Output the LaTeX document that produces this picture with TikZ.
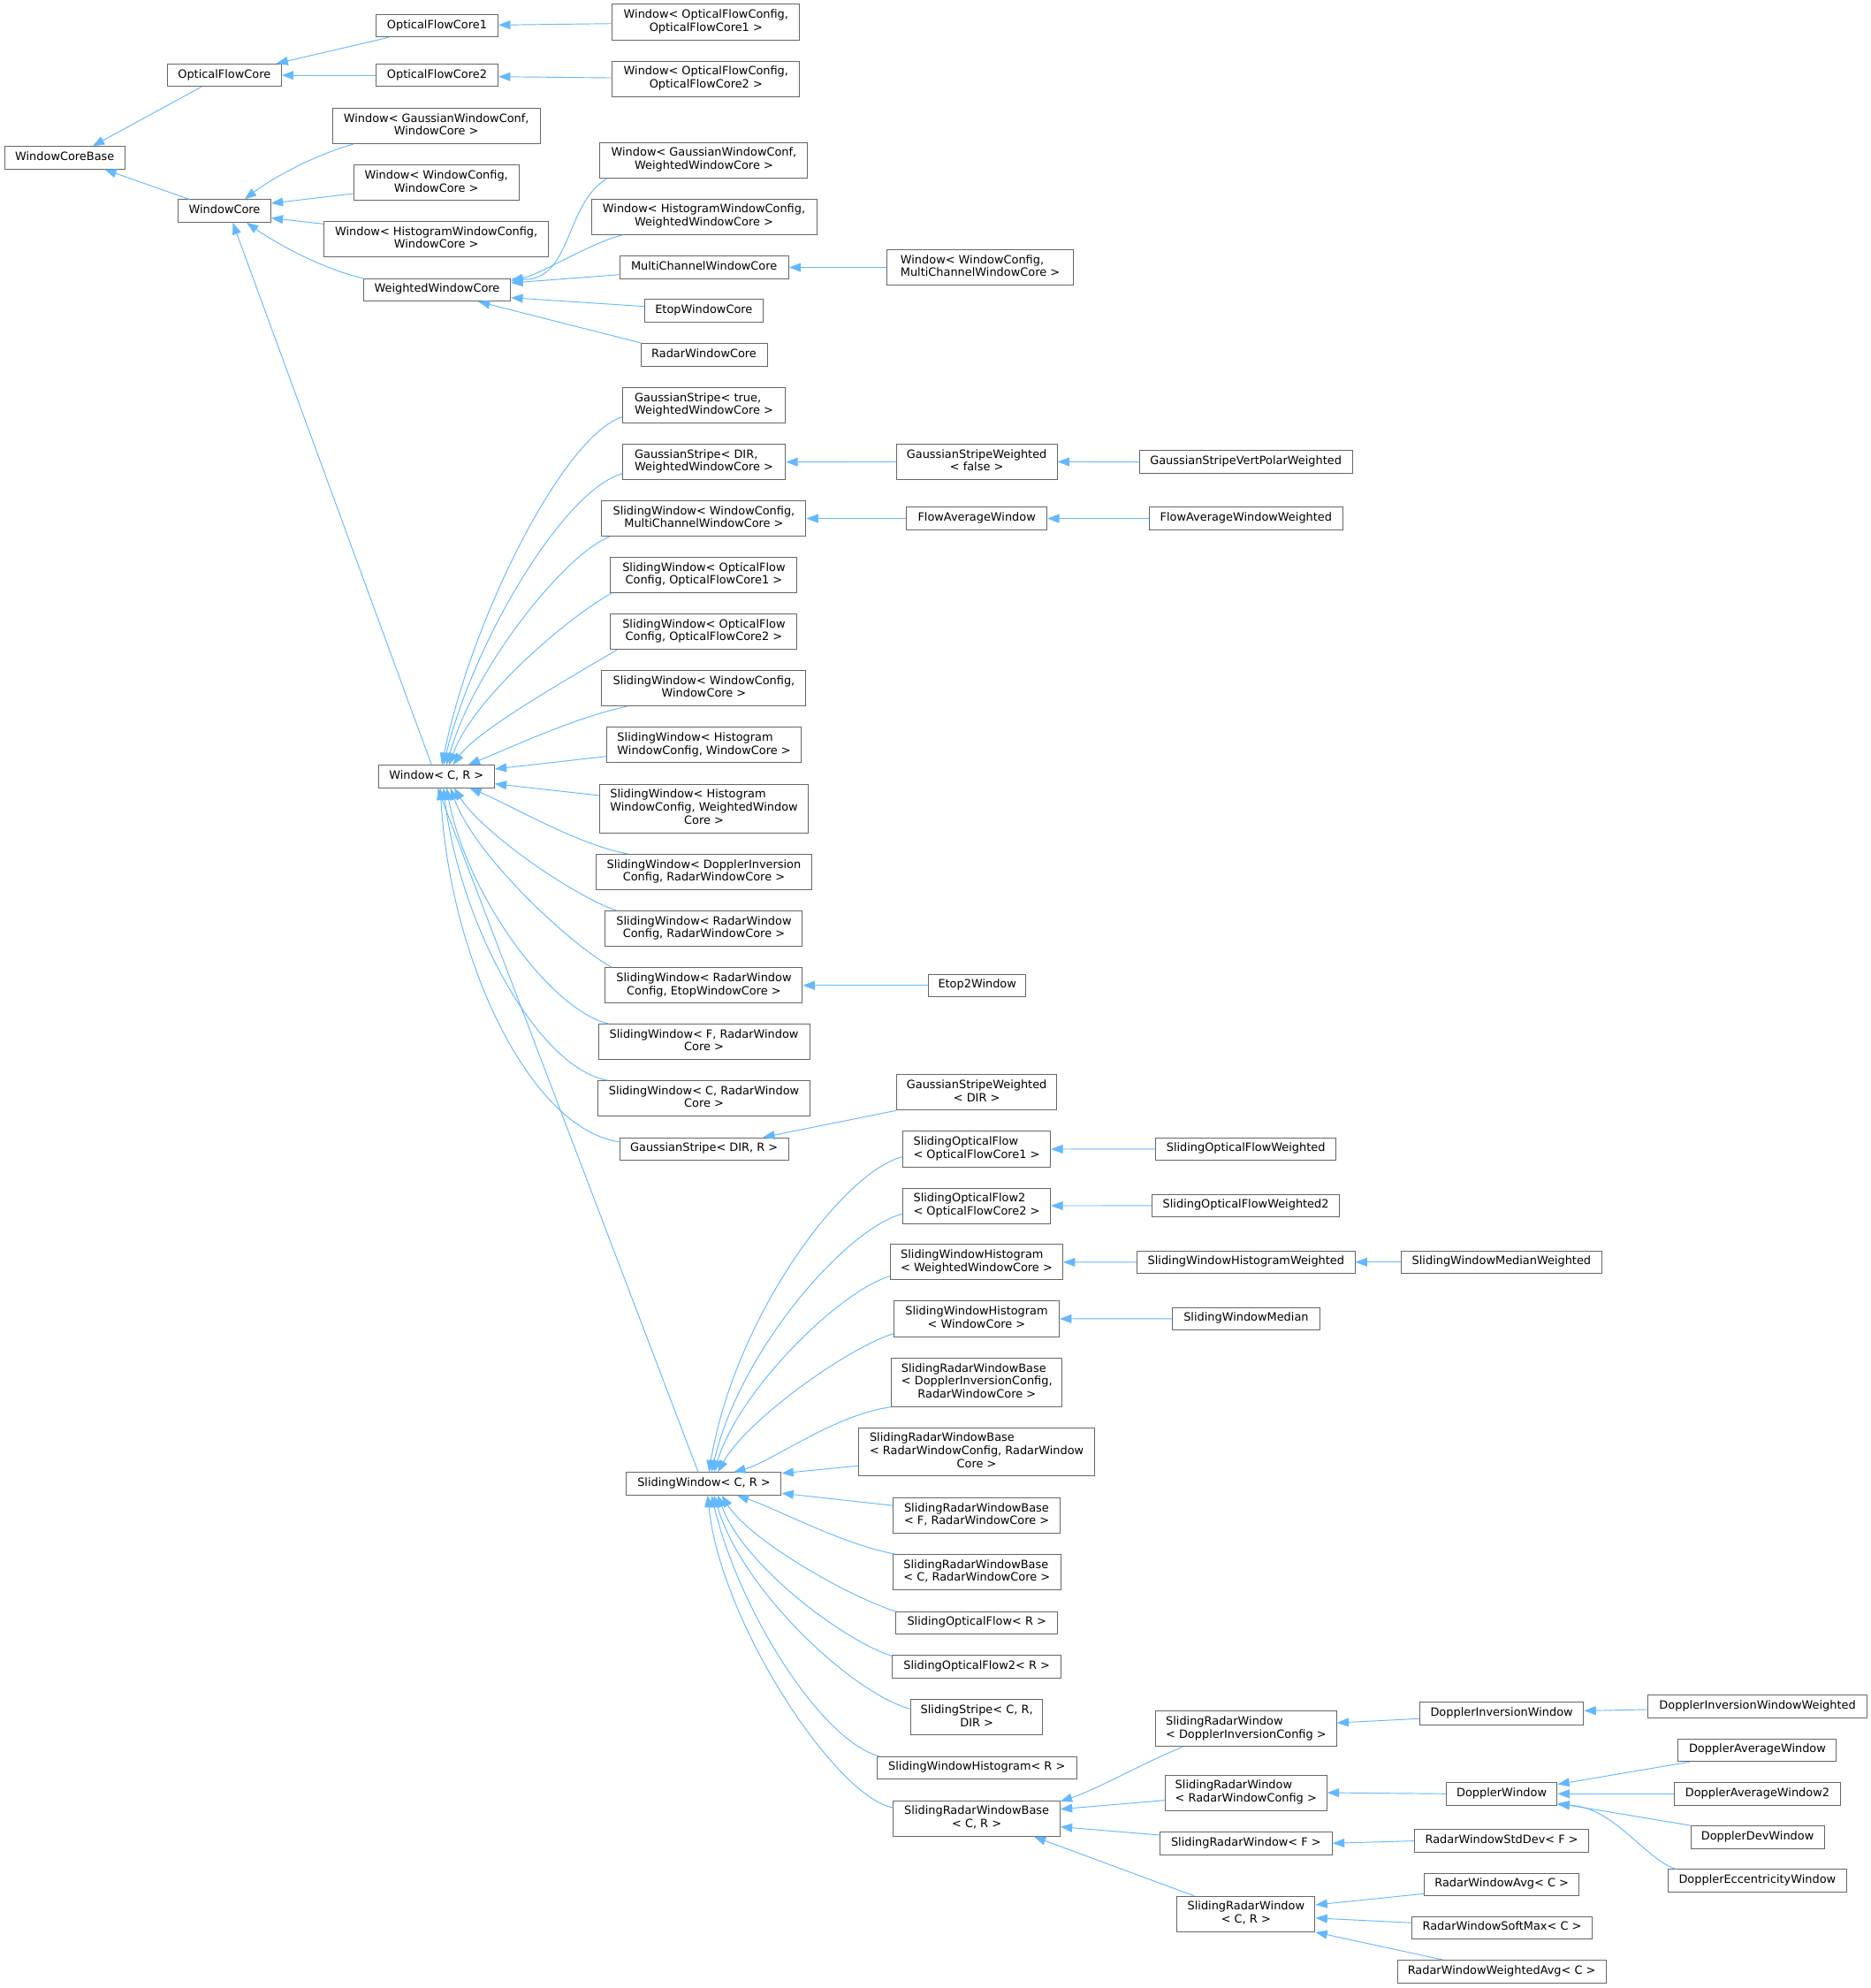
\documentclass[tikz,border=0pt]{standalone}
\usepackage{fontspec}
\setmainfont{DejaVu Sans}
\usetikzlibrary{arrows.meta,calc}
\definecolor{edgeblue}{HTML}{63B8FF}
\definecolor{bordergray}{HTML}{666666}
\newcommand\lbl[2]{\begin{tabular}{@{}l@{}}#1\\\multicolumn{1}{@{}c@{}}{#2}\end{tabular}}
\tikzset{
  nb/.style={draw=bordergray, fill=white, line width=0.75pt, inner sep=0pt,
    font=\fontsize{9.68pt}{11pt}\selectfont},
  b1/.style={nb, minimum height=17.7*1.0773pt, text height=7.7pt, text depth=3.3pt},
  b2/.style={nb, minimum height=27.9*1.0773pt},
  b3/.style={nb, minimum height=38.1*1.0773pt},
  bw/.style={minimum width=#1*1.0773pt},
  inh/.style={draw=edgeblue, line width=0.7pt, -{Triangle[length=10pt,width=7.4pt,fill=edgeblue]}}
}
\begin{document}
\begin{tikzpicture}[x=1.0773pt,y=-1.0773pt]
\useasboundingbox (0,0) rectangle (1474.2,1566.2);
\fill[white] (0,0) rectangle (1474.2,1566.2);
% ---- nodes ----
\node[b1,bw=94.6] (wcb) at (51,124.3) {WindowCoreBase};
\node[b1,bw=89.9] (ofc) at (176.75,59.3) {OpticalFlowCore};
\node[b1,bw=72.8] (wc) at (176.9,166.2) {WindowCore};
\node[b1,bw=96.3] (ofc1) at (344.35,20.3) {OpticalFlowCore1};
\node[b1,bw=96.3] (ofc2) at (344.35,59.3) {OpticalFlowCore2};
\node[b2,bw=163.6] (wgw) at (343.8,99.2) {\lbl{Window< GaussianWindowConf,}{WindowCore >}};
\node[b2,bw=130] (www) at (343.8,144) {\lbl{Window< WindowConfig,}{WindowCore >}};
\node[b2,bw=177.2] (whw) at (343.8,188.5) {\lbl{Window< HistogramWindowConfig,}{WindowCore >}};
\node[b1,bw=115.9] (wwc) at (344.35,228.4) {WeightedWindowCore};
\node[b1,bw=91.2] (wcr) at (343.9,611.7) {Window< C, R >};
% column 3
\node[b2,bw=147.6] (wof1) at (556.3,17.4) {\lbl{Window< OpticalFlowConfig,}{OpticalFlowCore1 >}};
\node[b2,bw=147.6] (wof2) at (556.3,62.1) {\lbl{Window< OpticalFlowConfig,}{OpticalFlowCore2 >}};
\node[b2,bw=163.7] (wgww) at (554.65,126.2) {\lbl{Window< GaussianWindowConf,}{WeightedWindowCore >}};
\node[b2,bw=177.6] (whww) at (554.7,170.8) {\lbl{Window< HistogramWindowConfig,}{WeightedWindowCore >}};
\node[b1,bw=133.2] (mcwc) at (554.8,210.7) {MultiChannelWindowCore};
\node[b1,bw=93.3] (etop) at (554.55,244.9) {EtopWindowCore};
\node[b1,bw=99.6] (rwc) at (554.7,279.5) {RadarWindowCore};
\node[b2,bw=128.4] (gst) at (554.7,319.4) {\lbl{GaussianStripe< true,}{WeightedWindowCore >}};
\node[b2,bw=128.4] (gsd) at (554.7,364) {\lbl{GaussianStripe< DIR,}{WeightedWindowCore >}};
\node[b2,bw=160.9] (swmc) at (554.65,408.5) {\lbl{SlidingWindow< WindowConfig,}{MultiChannelWindowCore >}};
\node[b2,bw=146.9] (swo1) at (554.65,453) {\lbl{SlidingWindow< OpticalFlow}{Config, OpticalFlowCore1 >}};
\node[b2,bw=146.9] (swo2) at (554.65,497.7) {\lbl{SlidingWindow< OpticalFlow}{Config, OpticalFlowCore2 >}};
\node[b2,bw=160.9] (swww) at (554.65,542.3) {\lbl{SlidingWindow< WindowConfig,}{WindowCore >}};
\node[b2,bw=153.4] (swhw) at (554.7,586.9) {\lbl{SlidingWindow< Histogram}{WindowConfig, WindowCore >}};
\node[b3,bw=164.6] (swhww) at (554.7,637) {\lbl{SlidingWindow< Histogram\\WindowConfig, WeightedWindow}{Core >}};
\node[b2,bw=170.1] (swdi) at (554.65,687.1) {\lbl{SlidingWindow< DopplerInversion}{Config, RadarWindowCore >}};
\node[b2,bw=155.3] (swrr) at (554.65,731.7) {\lbl{SlidingWindow< RadarWindow}{Config, RadarWindowCore >}};
\node[b2,bw=155.3] (swre) at (554.65,776.3) {\lbl{SlidingWindow< RadarWindow}{Config, EtopWindowCore >}};
\node[b2,bw=166.4] (swf) at (554.7,820.8) {\lbl{SlidingWindow< F, RadarWindow}{Core >}};
\node[b2,bw=167.4] (swc) at (554.7,865.4) {\lbl{SlidingWindow< C, RadarWindow}{Core >}};
\node[b1,bw=133.2] (gsr) at (554.8,905.2) {GaussianStripe< DIR, R >};
\node[b1,bw=121.9] (swcr) at (554.65,1168.9) {SlidingWindow< C, R >};
% column 4
\node[b2,bw=147] (wwmc) at (772.3,210.8) {\lbl{Window< WindowConfig,}{MultiChannelWindowCore >}};
\node[b2,bw=126.6] (gswf) at (769.6,363.8) {\lbl{GaussianStripeWeighted}{< false >}};
\node[b1,bw=110.7] (faw) at (769.65,408.5) {FlowAverageWindow};
\node[b1,bw=76.5] (etop2) at (770,776.3) {Etop2Window};
\node[b2,bw=126.2] (gswd) at (769.6,860.6) {\lbl{GaussianStripeWeighted}{< DIR >}};
\node[b2,bw=116.5] (sof1) at (769.55,905.3) {\lbl{SlidingOpticalFlow}{< OpticalFlowCore1 >}};
\node[b2,bw=116.5] (sof2) at (769.55,949.9) {\lbl{SlidingOpticalFlow2}{< OpticalFlowCore2 >}};
\node[b2,bw=136] (swhwwc) at (769.5,994.4) {\lbl{SlidingWindowHistogram}{< WeightedWindowCore >}};
\node[b2,bw=130.4] (swhwc) at (769.5,1039) {\lbl{SlidingWindowHistogram}{< WindowCore >}};
\node[b3,bw=134.6] (srwbd) at (769.7,1089.1) {\lbl{SlidingRadarWindowBase\\< DopplerInversionConfig,}{RadarWindowCore >}};
\node[b3,bw=186] (srwbr) at (769.6,1143.9) {\lbl{SlidingRadarWindowBase\\< RadarWindowConfig, RadarWindow}{Core >}};
\node[b2,bw=131.2] (srwbf) at (769.6,1194) {\lbl{SlidingRadarWindowBase}{< F, RadarWindowCore >}};
\node[b2,bw=132.3] (srwbc) at (769.75,1238.6) {\lbl{SlidingRadarWindowBase}{< C, RadarWindowCore >}};
\node[b1,bw=127.5] (sofr) at (769.65,1278.6) {SlidingOpticalFlow< R >};
\node[b1,bw=133] (sof2r) at (769.6,1312.9) {SlidingOpticalFlow2< R >};
\node[b2,bw=104.2] (sstr) at (769.6,1352.9) {\lbl{SlidingStripe< C, R,}{DIR >}};
\node[b1,bw=157.4] (swhr) at (769.7,1392.7) {SlidingWindowHistogram< R >};
\node[b2,bw=131.2] (srwbcr) at (769.6,1432.7) {\lbl{SlidingRadarWindowBase}{< C, R >}};
% column 5
\node[b1,bw=167.7] (gsvpw) at (981.65,364) {GaussianStripeVertPolarWeighted};
\node[b1,bw=152.4] (faww) at (981.8,408.5) {FlowAverageWindowWeighted};
\node[b1,bw=142.1] (sofw) at (981.65,905.2) {SlidingOpticalFlowWeighted};
\node[b1,bw=148.1] (sofw2) at (981.65,949.8) {SlidingOpticalFlowWeighted2};
\node[b1,bw=171.6] (swhwt) at (981.8,994.3) {SlidingWindowHistogramWeighted};
\node[b1,bw=116.3] (swm) at (981.85,1038.9) {SlidingWindowMedian};
\node[b2,bw=142.5] (srwd) at (981.85,1362.1) {\lbl{SlidingRadarWindow}{< DopplerInversionConfig >}};
\node[b2,bw=127.5] (srwr) at (981.75,1412.3) {\lbl{SlidingRadarWindow}{< RadarWindowConfig >}};
\node[b1,bw=135.8] (srwf) at (981.8,1452.2) {SlidingRadarWindow< F >};
\node[b2,bw=108.8] (srwcr) at (981.8,1507.9) {\lbl{SlidingRadarWindow}{< C, R >}};
% column 6
\node[b1,bw=157.8] (swmw) at (1183.1,994.3) {SlidingWindowMedianWeighted};
\node[b1,bw=129.3] (diw) at (1183.25,1350) {DopplerInversionWindow};
\node[b1,bw=87.5] (dw) at (1183.25,1413.2) {DopplerWindow};
\node[b1,bw=137.7] (rwsd) at (1183.25,1450.3) {RadarWindowStdDev< F >};
\node[b1,bw=121.9] (rwa) at (1183.25,1484.5) {RadarWindowAvg< C >};
\node[b1,bw=141.8] (rwsm) at (1183.5,1518.8) {RadarWindowSoftMax< C >};
\node[b1,bw=164.5] (rwwa) at (1183.25,1553.2) {RadarWindowWeightedAvg< C >};
% column 7
\node[b1,bw=172.3] (diww) at (1384.85,1344.5) {DopplerInversionWindowWeighted};
\node[b1,bw=124.7] (daw) at (1384.75,1378.8) {DopplerAverageWindow};
\node[b1,bw=130.3] (daw2) at (1384.75,1413.2) {DopplerAverageWindow2};
\node[b1,bw=105.3] (ddw) at (1384.85,1447.3) {DopplerDevWindow};
\node[b1,bw=140.4] (dew) at (1384.7,1481.7) {DopplerEccentricityWindow};
% ---- edges: top ----
\draw[inh] ($(ofc.south)+(-18.2,0)$) -- ($(wcb.north)+(22,0)$);
\draw[inh] ($(wc.north)+(-27.7,0)$) -- ($(wcb.south)+(31.4,0)$);
\draw[inh] ($(ofc1.south)+(-38.2,0)$) -- ($(ofc.north)+(40.9,0)$);
\draw[inh] (ofc2.west) -- (ofc.east);
\draw[inh] ($(wof1.west)+(0,1.2)$) -- ($(ofc1.east)+(0,-0.6)$);
\draw[inh] ($(wof2.west)+(0,-0.8)$) -- ($(ofc2.east)+(0,1.1)$);
\draw[inh] ($(wgw.south west)+(16.8,0)$) .. controls +(-35,10) and +(18,-14) .. ($(wc.north)+(15.9,0)$);
\draw[inh] ($(www.west)+(0,8.5)$) -- ($(wc.east)+(0,-6)$);
\draw[inh] ($(whw.west)+(0,-12.1)$) -- ($(wc.east)+(0,5.6)$);
\draw[inh] (wwc.north west) .. controls +(-35,-8) and +(20,14) .. ($(wc.south)+(17.4,0)$);
\draw[inh] ($(wcr.north)+(-3.9,0)$) -- ($(wc.south)+(6.5,0)$);
% WeightedWindowCore
\draw[inh] ($(wgww.south west)+(6.1,0)$) .. controls +(-33.9,19.8) and +(48.4,1.5) .. ($(wwc.east)+(0,-8.5)$);
\draw[inh] ($(whww.south west)+(25.1,0)$) .. controls +(-25,6) and +(25,-6) .. ($(wwc.east)+(0,-7)$);
\draw[inh] ($(mcwc.west)+(0,5.7)$) -- ($(wwc.east)+(0,-5.5)$);
\draw[inh] ($(etop.west)+(0,-3.5)$) -- ($(wwc.east)+(0,6.1)$);
\draw[inh] ($(rwc.north west)+(1.1,0)$) -- ($(wwc.south east)+(-25.9,0)$);
\draw[inh] (wwmc.west) -- (mcwc.east);
% Window< C, R > fan
\draw[inh] ($(gst.west)+(0,9.1)$) .. controls +(-45.5,14.5) and +(24,-117.6) .. ($(wcr.north)+(4.3,0)$);
\draw[inh] ($(gsd.west)+(0,9.3)$) .. controls +(-45,12) and +(24,-98.7) .. ($(wcr.north)+(5.6,0)$);
\draw[inh] ($(swmc.south west)+(6.3,0)$) .. controls +(-35,14) and +(22,-77.5) .. ($(wcr.north)+(8,0)$);
\draw[inh] ($(swo1.south west)+(1.2,0)$) .. controls +(-30,16) and +(20,-55) .. ($(wcr.north)+(10,0)$);
\draw[inh] ($(swo2.south west)+(5.1,0)$) .. controls +(-30,18) and +(20,-28) .. ($(wcr.north)+(13,0)$);
\draw[inh] ($(swww.south west)+(20.2,0)$) .. controls +(-40,8) and +(30,-12) .. ($(wcr.north)+(25,0)$);
\draw[inh] ($(swhw.west)+(0,9)$) -- ($(wcr.east)+(0,-5.9)$);
\draw[inh] ($(swhww.west)+(0,-10.3)$) -- ($(wcr.east)+(0,5.8)$);
\draw[inh] ($(swdi.north west)+(26,0)$) .. controls +(-40,-7) and +(30,12) .. ($(wcr.south)+(26,0)$);
\draw[inh] ($(swrr.north west)+(9.3,0)$) .. controls +(-35,-12) and +(22,35) .. ($(wcr.south)+(14,0)$);
\draw[inh] ($(swre.north west)+(5.4,0)$) .. controls +(-30,-16) and +(20,55) .. ($(wcr.south)+(11,0)$);
\draw[inh] ($(swf.north west)+(8.5,0)$) .. controls +(-45,-10) and +(16,85) .. ($(wcr.south)+(8,0)$);
\draw[inh] ($(swc.north west)+(8.3,0)$) .. controls +(-54.6,-9.2) and +(13,108.4) .. ($(wcr.south)+(5.5,0)$);
\draw[inh] ($(gsr.west)+(0,-5.7)$) .. controls +(-68.2,-9.5) and +(8.1,139.5) .. ($(wcr.south)+(3,0)$);
\draw[inh] ($(swcr.north)+(-4.5,0)$) -- ($(wcr.south)+(1,0)$);
% side chains
\draw[inh] (gswf.west) -- (gsd.east);
\draw[inh] (gsvpw.west) -- (gswf.east);
\draw[inh] (faw.west) -- (swmc.east);
\draw[inh] (faww.west) -- (faw.east);
\draw[inh] (etop2.west) -- (swre.east);
\draw[inh] (gswd.south west) -- ($(gsr.north)+(46.4,0)$);
% SlidingWindow< C, R > fan
\draw[inh] ($(sof1.west)+(0,6)$) .. controls +(-48.8,13.2) and +(20,-120) .. ($(swcr.north)+(4,0)$);
\draw[inh] ($(sof2.west)+(0,6.4)$) .. controls +(-45,12) and +(22,-95) .. ($(swcr.north)+(6,0)$);
\draw[inh] ($(swhwwc.south west)+(0,-3.3)$) .. controls +(-40,12) and +(20,-65) .. ($(swcr.north)+(8,0)$);
\draw[inh] ($(swhwc.south west)+(0,-2.6)$) .. controls +(-38,12) and +(22,-40) .. ($(swcr.north)+(11,0)$);
\draw[inh] (srwbd.south west) .. controls +(-45,6) and +(30,-8) .. ($(swcr.north)+(23.5,0)$);
\draw[inh] ($(srwbr.west)+(0,10.9)$) -- ($(swcr.east)+(0,-8.2)$);
\draw[inh] ($(srwbf.west)+(0,-7.9)$) -- ($(swcr.east)+(0,7.5)$);
\draw[inh] ($(srwbc.north west)+(2.1,0)$) .. controls +(-40,-7) and +(30,10) .. ($(swcr.south)+(26,0)$);
\draw[inh] (sofr.north west) .. controls +(-38,-12) and +(22,35) .. ($(swcr.south)+(14,0)$);
\draw[inh] ($(sof2r.north west)+(0,0.9)$) .. controls +(-38,-12) and +(20,55) .. ($(swcr.south)+(11,0)$);
\draw[inh] ($(sstr.west)+(0,-6.6)$) .. controls +(-45,-12) and +(22,75) .. ($(swcr.south)+(8,0)$);
\draw[inh] ($(swhr.north west)+(1.9,0)$) .. controls +(-45,-12) and +(22,92) .. ($(swcr.south)+(6,0)$);
\draw[inh] ($(srwbcr.west)+(0,-8.6)$) .. controls +(-45,-8) and +(10,100) .. ($(swcr.south)+(3,0)$);
% right chains
\draw[inh] (sofw.west) -- (sof1.east);
\draw[inh] (sofw2.west) -- (sof2.east);
\draw[inh] (swhwt.west) -- (swhwwc.east);
\draw[inh] (swmw.west) -- (swhwt.east);
\draw[inh] (swm.west) -- (swhwc.east);
\draw[inh] ($(srwd.south west)+(21.4,0)$) .. controls +(-30,12) and +(30,-10) .. ($(srwbcr.east)+(0,-13.5)$);
\draw[inh] ($(srwr.west)+(0,6)$) -- ($(srwbcr.east)+(0,-7.4)$);
\draw[inh] ($(srwf.west)+(0,-6.5)$) -- ($(srwbcr.east)+(0,6.5)$);
\draw[inh] ($(srwcr.north west)+(13.9,0)$) -- ($(srwbcr.south)+(45.2,0)$);
\draw[inh] ($(diw.west)+(0,4)$) -- ($(srwd.east)+(0,-4.8)$);
\draw[inh] ($(diww.west)+(0,2.3)$) -- ($(diw.east)+(0,-2.2)$);
\draw[inh] (dw.west) -- (srwr.east);
\draw[inh] ($(daw.south west)+(9.8,0)$) -- ($(dw.east)+(0,-7.5)$);
\draw[inh] (daw2.west) -- (dw.east);
\draw[inh] (ddw.north west) -- ($(dw.east)+(0,7.5)$);
\draw[inh] ($(dew.north west)+(6.5,0)$) .. controls +(-25,-8) and +(45,2) .. ($(dw.east)+(0,8.5)$);
\draw[inh] (rwsd.west) -- (srwf.east);
\draw[inh] ($(rwa.west)+(0,7.4)$) -- ($(srwcr.east)+(0,-7.2)$);
\draw[inh] ($(rwsm.west)+(0,-4)$) -- ($(srwcr.east)+(0,3.2)$);
\draw[inh] ($(rwwa.north west)+(36.4,0)$) -- (srwcr.south east);
\end{tikzpicture}
\end{document}
